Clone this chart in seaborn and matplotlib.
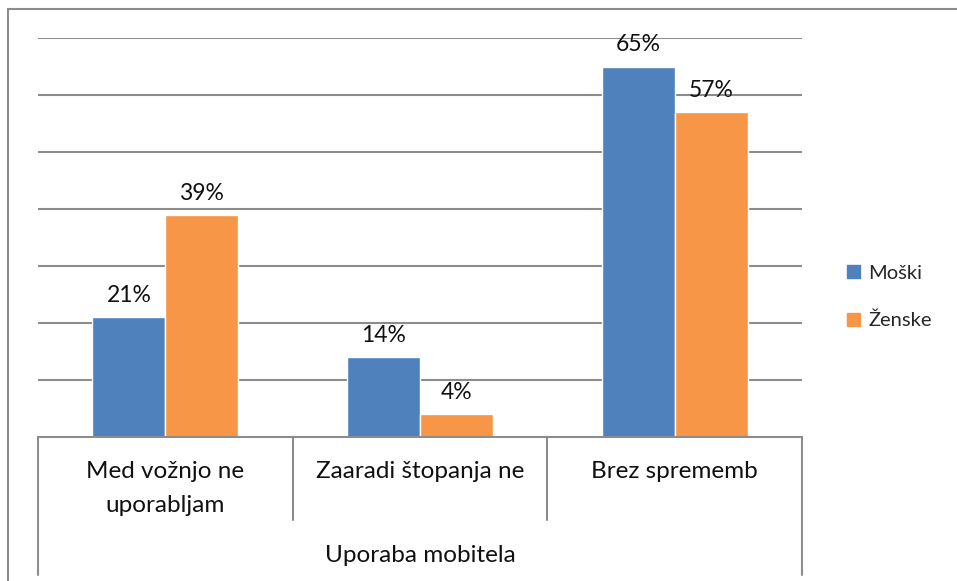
import matplotlib
matplotlib.use("Agg")
import matplotlib.pyplot as plt
import matplotlib.transforms as mtransforms
from matplotlib.lines import Line2D
import pandas as pd
import seaborn as sns

categories = ["Med vožnjo ne\nuporabljam", "Zaaradi štopanja ne", "Brez sprememb"]
group_label = "Uporaba mobitela"
series = ["Moški", "Ženske"]
moski = [21, 14, 65]
zenske = [39, 4, 57]
colors = {"Moški": "#4F81BD", "Ženske": "#F79646"}

df = pd.DataFrame({
    "cat": categories * 2,
    "spol": [series[0]] * 3 + [series[1]] * 3,
    "val": moski + zenske,
})

sns.set_style("white")
plt.rcParams["font.family"] = ["Lato", "DejaVu Sans"]

fig = plt.figure(figsize=(9.57, 5.81), dpi=100)
ax = fig.add_axes([38 / 957, 1 - 437 / 581, 764 / 957, 399 / 581])

sns.barplot(data=df, x="cat", y="val", hue="spol", palette=colors,
            width=0.573, saturation=1, ax=ax, legend=False)

ax.set_ylim(0, 70)
ax.set_xlim(-0.5, 2.5)
ax.set_yticks(range(10, 71, 10))
ax.yaxis.grid(True, color="#8C8C8C", linewidth=1.5)
ax.set_axisbelow(True)
ax.tick_params(axis="y", left=False, labelleft=False)
ax.tick_params(axis="x", bottom=False, labelbottom=False)
for s in ["top", "right", "left"]:
    ax.spines[s].set_visible(False)
ax.spines["bottom"].set_color("#8C8C8C")
ax.spines["bottom"].set_linewidth(1.5)
ax.set_xlabel("")
ax.set_ylabel("")

for cont in ax.containers:
    ax.bar_label(cont, labels=[f"{int(v)}%" for v in cont.datavalues],
                 padding=8, fontsize=16.5, color="#111111")

# multi-level category axis
trans = mtransforms.blended_transform_factory(ax.transData, ax.transAxes)
ax_h = 399
for xpos in [-0.5, 0.5, 1.5, 2.5]:
    depth = 138 if xpos in (-0.5, 2.5) else 83
    ax.add_line(Line2D([xpos, xpos], [0, -depth / ax_h], transform=trans,
                       color="#8C8C8C", linewidth=1.5, clip_on=False))
for i, c in enumerate(categories):
    ax.text(i, -24 / ax_h, c, transform=trans, ha="center", va="top",
            fontsize=17.5, linespacing=1.75, color="#111111")
ax.text(1, -119 / ax_h, group_label, transform=trans, ha="center",
        va="center", fontsize=17.5, color="#111111")

# legend
handles = [plt.Rectangle((0, 0), 1, 1, color=colors[s]) for s in series]
fig.legend(handles, series, loc="center left",
           bbox_to_anchor=(829 / 957, 1 - 297 / 581), frameon=False,
           fontsize=14.5, handlelength=0.65, handleheight=0.65,
           handletextpad=0.4, labelspacing=1.5)

# outer frame (left and top edges)
fig.add_artist(Line2D([8 / 957, 8 / 957], [0, 1 - 9 / 581],
                      transform=fig.transFigure, color="#8C8C8C", linewidth=1.5))
fig.add_artist(Line2D([8 / 957, 1], [1 - 9 / 581, 1 - 9 / 581],
                      transform=fig.transFigure, color="#8C8C8C", linewidth=1.5))

fig.savefig("out.png", dpi=100)
